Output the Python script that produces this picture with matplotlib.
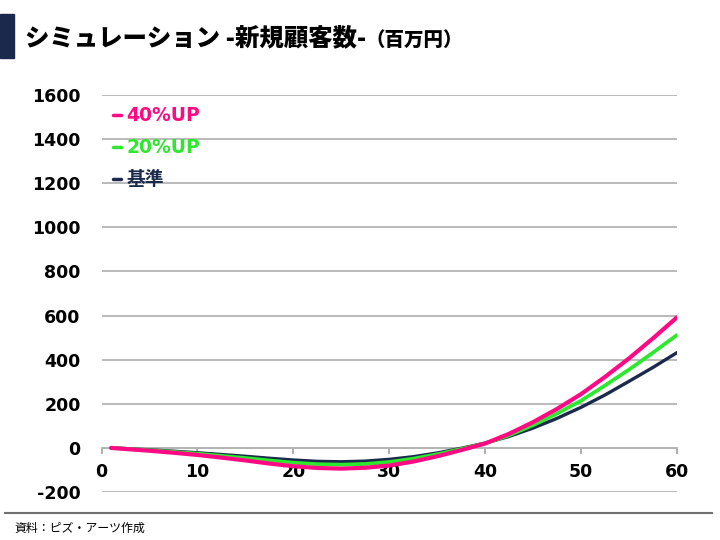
import matplotlib
matplotlib.use('Agg')
import matplotlib.pyplot as plt
from matplotlib.patches import Rectangle
from matplotlib.lines import Line2D

# ---- data ----
x_vals = [1, 2.5, 5, 7.5, 10, 12.5, 15, 17.5, 20, 22.5, 25, 27.5, 30,
          32.5, 35, 37.5, 40, 42.5, 45, 47.5, 50, 52.5, 55, 57.5, 60]
base = [0, -3, -9, -15, -22, -30, -38, -47, -55, -61, -63, -60, -52,
        -40, -23, -2, 22, 52, 90, 134, 184, 240, 302, 365, 432]
up20 = [0, -4, -11, -18, -26, -36, -46, -57, -67, -74, -76, -73, -64,
        -49, -29, -5, 20, 57, 103, 156, 214, 283, 355, 432, 512]
up40 = [0, -5, -13, -22, -32, -44, -57, -71, -83, -91, -94, -90, -80,
        -62, -38, -10, 20, 64, 117, 177, 244, 322, 406, 497, 592]
series_labels = ['40%UP', '20%UP', '基準']
x_ticks = [0, 10, 20, 30, 40, 50, 60]
y_ticks = [-200, 0, 200, 400, 600, 800, 1000, 1200, 1400, 1600]
title = 'シミュレーション -新規顧客数-'
unit = '（百万円）'
source = '資料：ピズ・アーツ作成'

# ---- style ----
PINK = '#ff0a84'
GREEN = '#2de82d'
NAVY = '#1b2a4c'
GRID = '#b4b4b4'
plt.rcParams['font.family'] = ['DejaVu Sans', 'Noto Sans CJK JP']
plt.rcParams['axes.unicode_minus'] = False

fig = plt.figure(figsize=(7.2, 5.4), dpi=100)
W, H = 720, 540
ax = fig.add_axes([101.5 / W, 1 - 492 / H, (677 - 101.5) / W, (492 - 95) / H])

l_base, = ax.plot(x_vals, base, color=NAVY, lw=2.4, solid_capstyle='round', zorder=3)
l_20, = ax.plot(x_vals, up20, color=GREEN, lw=2.7, solid_capstyle='round', zorder=4)
l_40, = ax.plot(x_vals, up40, color=PINK, lw=3.0, solid_capstyle='round', zorder=5)

ax.set_xlim(0, 60)
ax.set_ylim(-200, 1600)
ax.set_xticks(x_ticks)
ax.set_yticks(y_ticks)
ax.yaxis.grid(True, color=GRID, lw=1.3)
ax.set_axisbelow(True)
for s in ['left', 'right', 'top']:
    ax.spines[s].set_visible(False)
ax.spines['bottom'].set_position(('data', 0))
ax.spines['bottom'].set_color(GRID)
ax.spines['bottom'].set_linewidth(1.3)
ax.tick_params(axis='x', direction='out', length=4, width=1.1, color='#999999',
               pad=7, labelsize=12.5)
ax.tick_params(axis='y', length=0, pad=15, labelsize=12.5)
for lab in ax.get_xticklabels() + ax.get_yticklabels():
    lab.set_fontweight('bold')

leg = ax.legend([l_40, l_20, l_base], series_labels, loc='upper left',
                bbox_to_anchor=(0.02, 0.972), frameon=False,
                handlelength=0.4, handletextpad=0.3, labelspacing=0.7,
                borderpad=0, borderaxespad=0,
                prop={'size': 13.5, 'weight': 'bold'})
for txt, c in zip(leg.get_texts(), [PINK, GREEN, NAVY]):
    txt.set_color(c)
for h in leg.legend_handles:
    h.set_linewidth(2.5)

# title block
fig.patches.append(Rectangle((0, 1 - 58 / H), 14 / W, 44 / H,
                             transform=fig.transFigure, color=NAVY))
t = fig.text(25 / W, 1 - 38 / H, title, fontsize=17.6, fontweight='heavy',
             va='center', ha='left', family=['Noto Sans CJK JP', 'DejaVu Sans'])
fig.canvas.draw()
bb = t.get_window_extent()
fig.text(bb.x1 / W - 1 / W, 1 - 40 / H, unit, fontsize=14, fontweight='heavy',
         va='center', ha='left', family=['Noto Sans CJK JP', 'DejaVu Sans'])

# bottom rule and source
fig.lines.append(Line2D([5 / W, 712 / W], [1 - 513 / H] * 2,
                        transform=fig.transFigure, color='#707070', lw=1.5))
fig.text(14 / W, 1 - 528 / H, source, fontsize=8.6, va='center', ha='left',
         family=['Noto Sans CJK JP', 'DejaVu Sans'])

fig.savefig('out.png', dpi=100)
